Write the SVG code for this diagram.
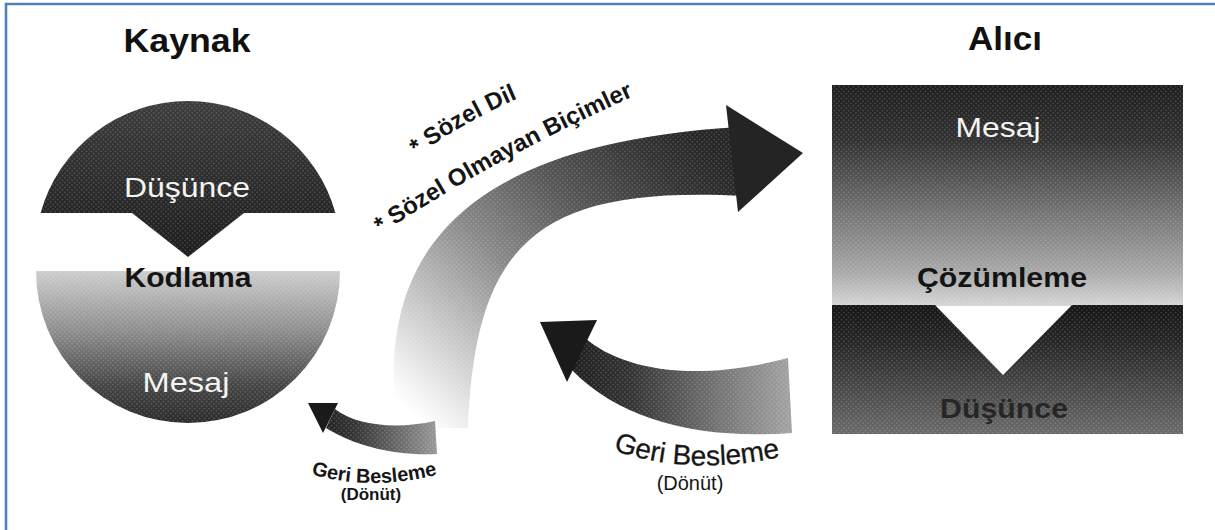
<svg xmlns="http://www.w3.org/2000/svg" width="1215" height="530" viewBox="0 0 1215 530">
<style>
  .t { font-family: "Liberation Sans", Arial, sans-serif; }
  .title { font-size: 33px; font-weight: bold; fill: #111; text-anchor: middle; }
  .lbl { font-size: 28px; text-anchor: middle; }
  .white { fill: #f4f4f4; }
  .blk { fill: #141414; font-weight: bold; }
  .arc { font-size: 24px; font-weight: bold; fill: #151515; }
  .fb { fill: #161616; }
  .dots { fill: url(#dots); }
</style>
<defs>
  <pattern id="dots" width="3.4" height="3.4" patternUnits="userSpaceOnUse" patternTransform="rotate(45)">
    <circle cx="1.7" cy="1.7" r="0.8" fill="#ffffff" fill-opacity="0.22"/>
  </pattern>
  <linearGradient id="gCap" x1="0" y1="101" x2="0" y2="257" gradientUnits="userSpaceOnUse">
    <stop offset="0" stop-color="#3c3c3c"/>
    <stop offset="1" stop-color="#1c1c1c"/>
  </linearGradient>
  <linearGradient id="gBowl" x1="0" y1="271" x2="0" y2="423" gradientUnits="userSpaceOnUse">
    <stop offset="0" stop-color="#cdcdcd"/>
    <stop offset="0.4" stop-color="#8c8c8c"/>
    <stop offset="0.75" stop-color="#454545"/>
    <stop offset="1" stop-color="#2a2a2a"/>
  </linearGradient>
  <linearGradient id="gTop" x1="0" y1="85" x2="0" y2="305" gradientUnits="userSpaceOnUse">
    <stop offset="0" stop-color="#1e1e1e"/>
    <stop offset="0.25" stop-color="#303030"/>
    <stop offset="0.6" stop-color="#777"/>
    <stop offset="0.85" stop-color="#a8a8a8"/>
    <stop offset="1" stop-color="#d4d4d4"/>
  </linearGradient>
  <linearGradient id="gBot" x1="0" y1="305" x2="0" y2="434" gradientUnits="userSpaceOnUse">
    <stop offset="0" stop-color="#141414"/>
    <stop offset="0.3" stop-color="#262626"/>
    <stop offset="1" stop-color="#6a6a6a"/>
  </linearGradient>
  <linearGradient id="gBig" x1="430" y1="430" x2="700" y2="140" gradientUnits="userSpaceOnUse">
    <stop offset="0" stop-color="#ffffff"/>
    <stop offset="0.08" stop-color="#ececec"/>
    <stop offset="0.26" stop-color="#bbbbbb"/>
    <stop offset="0.44" stop-color="#888"/>
    <stop offset="0.67" stop-color="#555"/>
    <stop offset="0.88" stop-color="#333"/>
    <stop offset="1" stop-color="#262626"/>
  </linearGradient>
  <linearGradient id="gFbR" x1="560" y1="0" x2="795" y2="0" gradientUnits="userSpaceOnUse">
    <stop offset="0" stop-color="#1a1a1a"/>
    <stop offset="0.3" stop-color="#333"/>
    <stop offset="0.65" stop-color="#707070"/>
    <stop offset="1" stop-color="#a5a5a5"/>
  </linearGradient>
  <linearGradient id="gFbL" x1="310" y1="0" x2="440" y2="0" gradientUnits="userSpaceOnUse">
    <stop offset="0" stop-color="#1a1a1a"/>
    <stop offset="0.35" stop-color="#353535"/>
    <stop offset="1" stop-color="#9c9c9c"/>
  </linearGradient>
  <path id="sCap" d="M 40.6 213 A 153 153 0 0 1 335.4 213 L 244 213 L 188 257 L 132 213 Z"/>
  <path id="sBowl" d="M 36 271 A 152 152 0 0 0 340 271 Z"/>
  <path id="sTop" d="M 832 85 H 1183 V 306 H 832 Z"/>
  <path id="sBot" d="M 832 305 L 935 305 L 1003 375 L 1072 305 L 1183 305 L 1183 434 L 832 434 Z"/>
  <path id="sBig" d="M 397 428 C 378 280, 430 145, 740 127 L 745 196 C 540 185, 475 240, 468 428 Z"/>
  <path id="sFbR" d="M 585 338 C 620 368, 690 384, 788 358 L 792 433 C 700 440, 620 420, 572 370 Z"/>
  <path id="sFbL" d="M 335 409 C 355 425, 395 430, 435 421 L 437 454 C 395 456, 355 446, 326 428 Z"/>
  <path id="pDil" d="M 417 156 Q 470 117 534 92"/>
  <path id="pOlm" d="M 381 234 Q 490 161 634 96"/>
  <path id="pGbR" d="M 613 450 Q 690 478 790 455"/>
  <path id="pGbL" d="M 311 474 Q 370 492 440 474"/>
</defs>

<rect x="0" y="0" width="1215" height="530" fill="#ffffff"/>
<path d="M 6 530 V 4 H 1215" fill="none" stroke="#4f81bd" stroke-width="2.6"/>

<g id="kaynak">
  <text class="t title" x="187" y="52" textLength="127" lengthAdjust="spacingAndGlyphs">Kaynak</text>
  <use href="#sCap" fill="url(#gCap)"/>
  <use href="#sCap" class="dots"/>
  <use href="#sBowl" fill="url(#gBowl)"/>
  <use href="#sBowl" class="dots"/>
  <text class="t lbl white" x="187" y="197" textLength="126" lengthAdjust="spacingAndGlyphs">Düşünce</text>
  <text class="t lbl blk" x="188" y="287" textLength="127" lengthAdjust="spacingAndGlyphs">Kodlama</text>
  <text class="t lbl white" x="186" y="392" textLength="87" lengthAdjust="spacingAndGlyphs">Mesaj</text>
</g>

<g id="alici">
  <text class="t title" x="1005" y="50" textLength="74" lengthAdjust="spacingAndGlyphs">Alıcı</text>
  <use href="#sTop" fill="url(#gTop)"/>
  <use href="#sTop" class="dots"/>
  <use href="#sBot" fill="url(#gBot)"/>
  <use href="#sBot" class="dots"/>
  <text class="t lbl white" x="998" y="137" textLength="85" lengthAdjust="spacingAndGlyphs">Mesaj</text>
  <text class="t lbl blk" x="1002" y="287" font-size="27" textLength="170" lengthAdjust="spacingAndGlyphs">Çözümleme</text>
  <text class="t lbl" x="1004" y="418" fill="#262626" font-weight="bold" textLength="128" lengthAdjust="spacingAndGlyphs">Düşünce</text>
</g>

<g id="connectors">
  <g id="mesaj-arrow">
    <use href="#sBig" fill="url(#gBig)"/>
    <use href="#sBig" class="dots"/>
    <polygon points="726,105 738,212 803,153" fill="#242424"/>
  </g>
  <g id="feedback-right">
    <use href="#sFbR" fill="url(#gFbR)"/>
    <use href="#sFbR" class="dots"/>
    <polygon points="540,322 597,320 567,382" fill="#1a1a1a"/>
  </g>
  <g id="feedback-left">
    <use href="#sFbL" fill="url(#gFbL)"/>
    <use href="#sFbL" class="dots"/>
    <polygon points="308,403 338,403 323,433" fill="#1a1a1a"/>
  </g>
</g>

<g id="labels">
  <text class="t arc"><textPath href="#pDil">* Sözel Dil</textPath></text>
  <text class="t arc"><textPath href="#pOlm">* Sözel Olmayan Biçimler</textPath></text>
  <text class="t fb" font-size="28" stroke="#161616" stroke-width="0.3"><textPath href="#pGbR">Geri Besleme</textPath></text>
  <text class="t fb" x="690" y="490" font-size="20" text-anchor="middle">(Dönüt)</text>
  <text class="t fb" font-size="20" font-weight="bold"><textPath href="#pGbL">Geri Besleme</textPath></text>
  <text class="t fb" x="371" y="500" font-size="17" font-weight="bold" text-anchor="middle">(Dönüt)</text>
</g>
</svg>
